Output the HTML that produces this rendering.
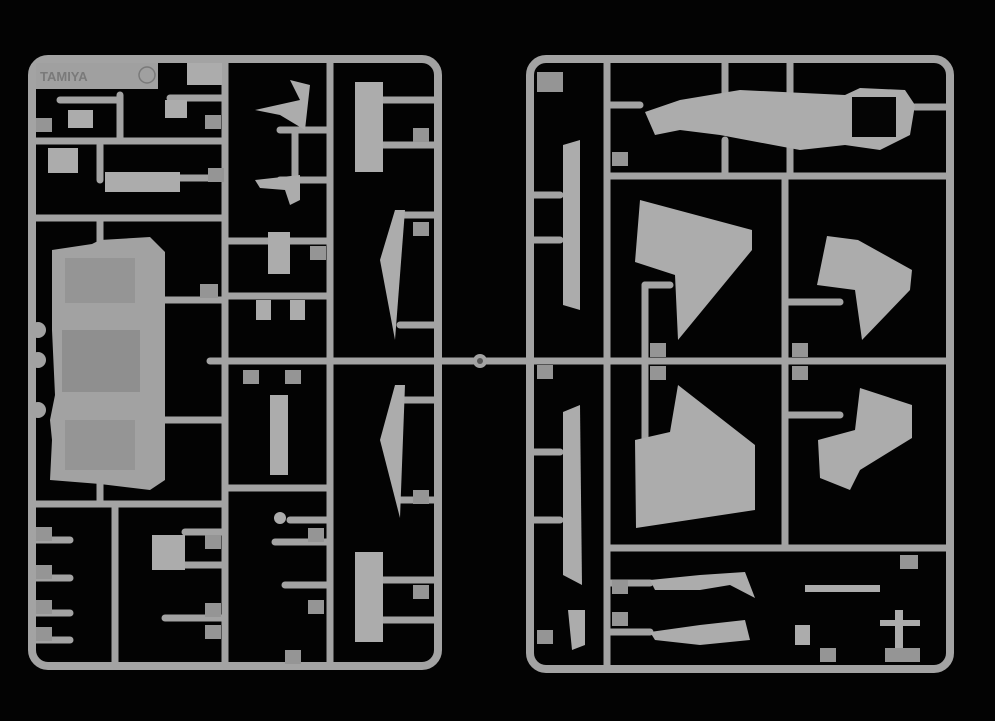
<!DOCTYPE html>
<html><head><meta charset="utf-8"><style>html,body{margin:0;padding:0;background:#020202;}svg{display:block}</style></head>
<body>
<svg width="995" height="721" viewBox="0 0 995 721" xmlns="http://www.w3.org/2000/svg">
<rect width="995" height="721" fill="#030303"/>
<g stroke="#a3a3a3" fill="none" stroke-linecap="round">
 <rect x="32" y="59" width="406" height="607" rx="16" stroke-width="8"/>
 <g stroke-width="7">
  <line x1="225" y1="60" x2="225" y2="664"/>
  <line x1="330" y1="60" x2="330" y2="664"/>
  <line x1="34" y1="141" x2="225" y2="141"/>
  <line x1="34" y1="218" x2="225" y2="218"/>
  <line x1="34" y1="504" x2="225" y2="504"/>
  <line x1="115" y1="504" x2="115" y2="664"/>
  <line x1="225" y1="241" x2="330" y2="241"/>
  <line x1="225" y1="296" x2="330" y2="296"/>
  <line x1="210" y1="361" x2="438" y2="361"/>
  <line x1="225" y1="488" x2="330" y2="488"/>
  <line x1="120" y1="95" x2="120" y2="138"/>
  <line x1="100" y1="145" x2="100" y2="180"/>
  <line x1="100" y1="218" x2="100" y2="245"/>
  <line x1="100" y1="480" x2="100" y2="504"/>
  <line x1="165" y1="300" x2="225" y2="300"/>
  <line x1="165" y1="420" x2="225" y2="420"/>
  <line x1="380" y1="100" x2="438" y2="100"/>
  <line x1="380" y1="145" x2="438" y2="145"/>
  <line x1="400" y1="215" x2="438" y2="215"/>
  <line x1="400" y1="325" x2="438" y2="325"/>
  <line x1="400" y1="400" x2="438" y2="400"/>
  <line x1="400" y1="500" x2="438" y2="500"/>
  <line x1="380" y1="580" x2="438" y2="580"/>
  <line x1="380" y1="620" x2="438" y2="620"/>
  <line x1="280" y1="130" x2="330" y2="130"/>
  <line x1="280" y1="180" x2="330" y2="180"/>
  <line x1="295" y1="130" x2="295" y2="180"/>
  <line x1="290" y1="520" x2="330" y2="520"/>
  <line x1="275" y1="542" x2="330" y2="542"/>
  <line x1="285" y1="585" x2="330" y2="585"/>
  <line x1="185" y1="532" x2="225" y2="532"/>
  <line x1="185" y1="565" x2="225" y2="565"/>
  <line x1="165" y1="618" x2="225" y2="618"/>
  <line x1="34" y1="540" x2="70" y2="540"/>
  <line x1="34" y1="578" x2="70" y2="578"/>
  <line x1="34" y1="613" x2="70" y2="613"/>
  <line x1="34" y1="640" x2="70" y2="640"/>
  <line x1="60" y1="100" x2="120" y2="100"/>
  <line x1="120" y1="178" x2="225" y2="178"/>
  <line x1="170" y1="98" x2="225" y2="98"/>
  <line x1="440" y1="361" x2="526" y2="361"/>
 </g>
 <rect x="530" y="59" width="420" height="610" rx="16" stroke-width="8"/>
 <g stroke-width="7">
  <line x1="607" y1="60" x2="607" y2="668"/>
  <line x1="785" y1="176" x2="785" y2="548"/>
  <line x1="607" y1="176" x2="948" y2="176"/>
  <line x1="532" y1="361" x2="948" y2="361"/>
  <line x1="607" y1="548" x2="948" y2="548"/>
  <line x1="725" y1="60" x2="725" y2="100"/>
  <line x1="790" y1="60" x2="790" y2="95"/>
  <line x1="725" y1="140" x2="725" y2="176"/>
  <line x1="790" y1="140" x2="790" y2="176"/>
  <line x1="607" y1="105" x2="640" y2="105"/>
  <line x1="915" y1="107" x2="948" y2="107"/>
  <line x1="532" y1="195" x2="560" y2="195"/>
  <line x1="532" y1="240" x2="560" y2="240"/>
  <line x1="532" y1="452" x2="560" y2="452"/>
  <line x1="532" y1="520" x2="560" y2="520"/>
  <line x1="645" y1="285" x2="645" y2="445"/>
  <line x1="645" y1="285" x2="670" y2="285"/>
  <line x1="645" y1="445" x2="670" y2="445"/>
  <line x1="785" y1="302" x2="840" y2="302"/>
  <line x1="785" y1="415" x2="840" y2="415"/>
  <line x1="607" y1="583" x2="650" y2="583"/>
  <line x1="607" y1="632" x2="650" y2="632"/>
 </g>
</g>
<circle cx="480" cy="361" r="7" fill="#a3a3a3"/>
<circle cx="480" cy="361" r="3" fill="#555"/>
<g fill="#acacac">
 <rect x="36" y="63" width="122" height="26" fill="#a0a0a0"/>
 <text x="40" y="81" font-family="Liberation Sans, sans-serif" font-size="13" font-weight="bold" fill="#7a7a7a">TAMIYA</text>
 <circle cx="147" cy="75" r="8" fill="none" stroke="#7a7a7a" stroke-width="1.5"/>
 <rect x="187" y="63" width="35" height="22"/>
 <path d="M52 250 L92 244 L100 240 L150 237 L165 252 L165 480 L150 490 L100 484 L50 480 L52 440 L50 420 L55 395 L52 330 Z" fill="#a2a2a2"/>
 <rect x="62" y="330" width="78" height="62" fill="#8f8f8f"/>
 <rect x="65" y="258" width="70" height="45" fill="#959595"/>
 <rect x="65" y="420" width="70" height="50" fill="#959595"/>
 <circle cx="38" cy="330" r="8" fill="#a2a2a2"/><circle cx="38" cy="360" r="8" fill="#a2a2a2"/><circle cx="38" cy="410" r="8" fill="#a2a2a2"/>
 <rect x="68" y="110" width="25" height="18"/>
 <rect x="165" y="100" width="22" height="18"/>
 <rect x="105" y="172" width="75" height="20"/>
 <rect x="48" y="148" width="30" height="25"/>
 <path d="M255 110 L300 100 L290 80 L310 85 L305 130 L280 115 Z"/>
 <path d="M255 180 L300 175 L300 200 L290 205 L285 190 L260 188 Z"/>
 <rect x="268" y="232" width="22" height="42"/>
 <rect x="256" y="300" width="15" height="20"/><rect x="290" y="300" width="15" height="20"/>
 <rect x="270" y="395" width="18" height="80"/>
 <circle cx="280" cy="518" r="6"/>
 <rect x="152" y="535" width="33" height="35"/>
 <rect x="355" y="82" width="28" height="90"/>
 <path d="M395 210 L380 260 L395 340 L405 210 Z"/>
 <path d="M395 385 L380 440 L400 518 L405 385 Z"/>
 <rect x="355" y="552" width="28" height="90"/>
 <g fill="#959595">
  <rect x="36" y="118" width="16" height="14"/><rect x="205" y="115" width="16" height="14"/>
  <rect x="208" y="168" width="16" height="14"/><rect x="200" y="284" width="18" height="14"/>
  <rect x="310" y="246" width="16" height="14"/><rect x="413" y="128" width="16" height="14"/>
  <rect x="413" y="222" width="16" height="14"/><rect x="413" y="490" width="16" height="14"/>
  <rect x="413" y="585" width="16" height="14"/><rect x="308" y="528" width="16" height="14"/>
  <rect x="308" y="600" width="16" height="14"/><rect x="205" y="535" width="16" height="14"/>
  <rect x="205" y="603" width="16" height="14"/><rect x="205" y="625" width="16" height="14"/>
  <rect x="36" y="527" width="16" height="14"/><rect x="36" y="565" width="16" height="14"/>
  <rect x="36" y="600" width="16" height="14"/><rect x="36" y="627" width="16" height="14"/>
  <rect x="285" y="370" width="16" height="14"/><rect x="243" y="370" width="16" height="14"/>
  <rect x="285" y="650" width="16" height="14"/>
 </g>
 <path d="M645 112 L680 100 L740 90 L845 95 L860 88 L905 90 L915 105 L910 135 L880 150 L845 145 L800 150 L720 135 L680 130 L655 135 Z"/>
 <rect x="852" y="97" width="44" height="40" fill="#050505"/>
 <rect x="612" y="152" width="16" height="14" fill="#959595"/>
 <rect x="537" y="72" width="26" height="20" fill="#959595"/>
 <path d="M563 145 L580 140 L580 310 L563 305 Z"/>
 <path d="M563 412 L580 405 L582 585 L563 575 Z"/>
 <path d="M568 610 L585 610 L585 645 L572 650 Z"/>
 <path d="M640 200 L752 230 L752 250 L678 340 L675 275 L635 262 Z"/>
 <path d="M678 385 L755 445 L755 510 L636 528 L635 440 L670 432 Z"/>
 <path d="M827 236 L858 240 L912 270 L910 290 L862 340 L855 290 L817 285 Z"/>
 <path d="M860 388 L912 405 L912 438 L860 470 L850 490 L820 478 L818 440 L855 430 Z"/>
 <path d="M650 580 L700 575 L745 572 L755 598 L730 585 L700 590 L655 590 Z"/>
 <path d="M650 632 L700 625 L745 620 L750 640 L700 645 L655 640 Z"/>
 <path d="M805 585 L880 585 L880 592 L805 592 Z"/>
 <rect x="795" y="625" width="15" height="20"/>
 <rect x="895" y="610" width="8" height="50"/><rect x="880" y="620" width="40" height="6"/>
 <g fill="#959595">
  <rect x="650" y="343" width="16" height="14"/><rect x="650" y="366" width="16" height="14"/>
  <rect x="792" y="343" width="16" height="14"/><rect x="792" y="366" width="16" height="14"/>
  <rect x="537" y="365" width="16" height="14"/><rect x="537" y="630" width="16" height="14"/>
  <rect x="612" y="580" width="16" height="14"/><rect x="612" y="612" width="16" height="14"/>
  <rect x="900" y="555" width="18" height="14"/><rect x="820" y="648" width="16" height="14"/>
  <rect x="885" y="648" width="35" height="14"/>
 </g>
</g>
</svg>
</body></html>
